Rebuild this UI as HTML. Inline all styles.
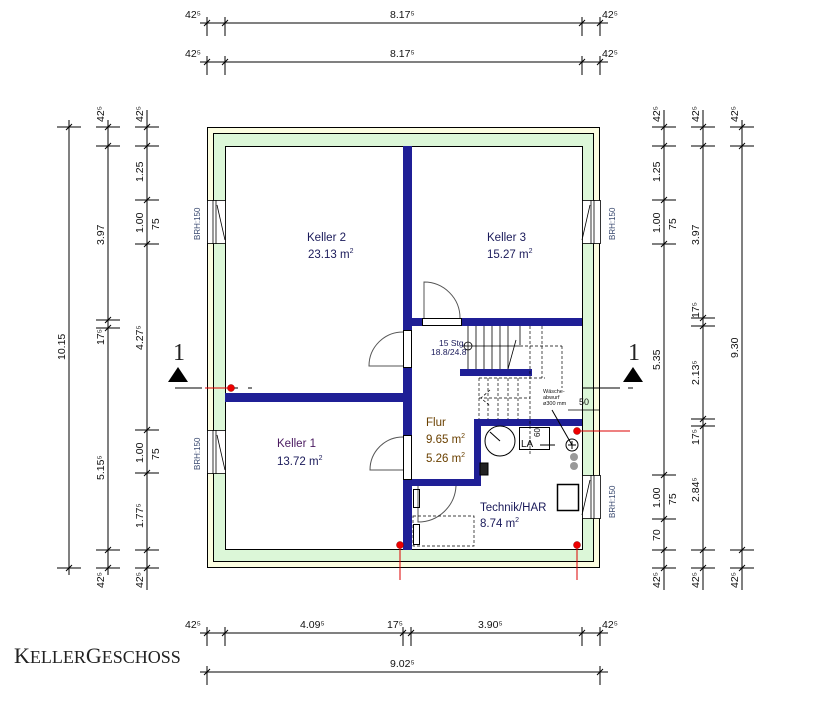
<!DOCTYPE html>
<html><head><meta charset="utf-8"><style>
html,body{margin:0;padding:0;background:#fff}
svg{display:block}
text{font-family:"Liberation Sans",sans-serif}
.d{fill:#111;font-size:10.5px}
.r{fill:#1a1a5a;font-size:11.5px}
.serif{font-family:"Liberation Serif",serif}
</style></head><body>
<svg width="828" height="712" viewBox="0 0 828 712" xmlns="http://www.w3.org/2000/svg" font-size="11">
<defs>
<g id="th"><line x1="0" y1="-6" x2="0" y2="13" stroke="#000"/><line x1="-3" y1="3" x2="3" y2="-3" stroke="#000"/></g>
<g id="tv"><line x1="-12" y1="0" x2="12" y2="0" stroke="#000"/><line x1="-3" y1="3" x2="3" y2="-3" stroke="#000"/></g>
</defs>
<g stroke="#000" stroke-width="1">
<line x1="200" y1="23" x2="608" y2="23"/><line x1="200" y1="62" x2="608" y2="62"/>
<line x1="200" y1="633" x2="608" y2="633"/><line x1="200" y1="672" x2="608" y2="672"/>
<line x1="69" y1="120" x2="69" y2="575"/><line x1="108" y1="120" x2="108" y2="575"/><line x1="147" y1="110" x2="147" y2="590"/>
<line x1="664" y1="110" x2="664" y2="590"/><line x1="703" y1="110" x2="703" y2="590"/><line x1="742" y1="120" x2="742" y2="590"/>
</g>
<use href="#th" x="207" y="23"/><use href="#th" x="225" y="23"/><use href="#th" x="582" y="23"/><use href="#th" x="600" y="23"/>
<use href="#th" x="207" y="62"/><use href="#th" x="225" y="62"/><use href="#th" x="582" y="62"/><use href="#th" x="600" y="62"/>
<use href="#th" x="207" y="633"/><use href="#th" x="225" y="633"/><use href="#th" x="403" y="633"/><use href="#th" x="411" y="633"/><use href="#th" x="582" y="633"/><use href="#th" x="600" y="633"/>
<use href="#th" x="207" y="672"/><use href="#th" x="600" y="672"/>
<use href="#tv" x="69" y="127"/><use href="#tv" x="69" y="568"/>
<use href="#tv" x="108" y="127"/><use href="#tv" x="108" y="146"/><use href="#tv" x="108" y="320"/><use href="#tv" x="108" y="328"/><use href="#tv" x="108" y="550"/><use href="#tv" x="108" y="568"/>
<use href="#tv" x="147" y="127"/><use href="#tv" x="147" y="146"/><use href="#tv" x="147" y="200"/><use href="#tv" x="147" y="244"/><use href="#tv" x="147" y="430"/><use href="#tv" x="147" y="473"/><use href="#tv" x="147" y="550"/><use href="#tv" x="147" y="568"/>
<use href="#tv" x="664" y="127"/><use href="#tv" x="664" y="146"/><use href="#tv" x="664" y="200"/><use href="#tv" x="664" y="244"/><use href="#tv" x="664" y="475"/><use href="#tv" x="664" y="519"/><use href="#tv" x="664" y="550"/><use href="#tv" x="664" y="568"/>
<use href="#tv" x="703" y="127"/><use href="#tv" x="703" y="146"/><use href="#tv" x="703" y="318"/><use href="#tv" x="703" y="326"/><use href="#tv" x="703" y="419"/><use href="#tv" x="703" y="426"/><use href="#tv" x="703" y="550"/><use href="#tv" x="703" y="568"/>
<use href="#tv" x="742" y="127"/><use href="#tv" x="742" y="146"/><use href="#tv" x="742" y="550"/><use href="#tv" x="742" y="568"/>
<g class="d">
<text x="185" y="18">42⁵</text><text x="390" y="18">8.17⁵</text><text x="602" y="18">42⁵</text>
<text x="185" y="57">42⁵</text><text x="390" y="57">8.17⁵</text><text x="602" y="57">42⁵</text>
<text x="185" y="628">42⁵</text><text x="300" y="628">4.09⁵</text><text x="387" y="628">17⁵</text><text x="478" y="628">3.90⁵</text><text x="602" y="628">42⁵</text>
<text x="390" y="667">9.02⁵</text>
</g>
<g class="d">
<text transform="translate(65,360) rotate(-90)">10.15</text>
<text transform="translate(104,122) rotate(-90)">42⁵</text>
<text transform="translate(104,245) rotate(-90)">3.97</text>
<text transform="translate(104,345) rotate(-90)">17⁵</text>
<text transform="translate(104,480) rotate(-90)">5.15⁵</text>
<text transform="translate(104,588) rotate(-90)">42⁵</text>
<text transform="translate(143,122) rotate(-90)">42⁵</text>
<text transform="translate(143,182) rotate(-90)">1.25</text>
<text transform="translate(143,233) rotate(-90)">1.00</text>
<text transform="translate(159,230) rotate(-90)">75</text>
<text transform="translate(143,350) rotate(-90)">4.27⁵</text>
<text transform="translate(143,463) rotate(-90)">1.00</text>
<text transform="translate(159,460) rotate(-90)">75</text>
<text transform="translate(143,528) rotate(-90)">1.77⁵</text>
<text transform="translate(143,588) rotate(-90)">42⁵</text>
<text transform="translate(660,122) rotate(-90)">42⁵</text>
<text transform="translate(660,182) rotate(-90)">1.25</text>
<text transform="translate(660,233) rotate(-90)">1.00</text>
<text transform="translate(676,230) rotate(-90)">75</text>
<text transform="translate(660,370) rotate(-90)">5.35</text>
<text transform="translate(660,508) rotate(-90)">1.00</text>
<text transform="translate(676,505) rotate(-90)">75</text>
<text transform="translate(660,541) rotate(-90)">70</text>
<text transform="translate(660,588) rotate(-90)">42⁵</text>
<text transform="translate(699,122) rotate(-90)">42⁵</text>
<text transform="translate(699,245) rotate(-90)">3.97</text>
<text transform="translate(699,318) rotate(-90)">17⁵</text>
<text transform="translate(699,385) rotate(-90)">2.13⁵</text>
<text transform="translate(699,445) rotate(-90)">17⁵</text>
<text transform="translate(699,502) rotate(-90)">2.84⁵</text>
<text transform="translate(699,588) rotate(-90)">42⁵</text>
<text transform="translate(738,122) rotate(-90)">42⁵</text>
<text transform="translate(738,358) rotate(-90)">9.30</text>
<text transform="translate(738,588) rotate(-90)">42⁵</text>
</g>
<rect x="207.5" y="127.5" width="392" height="440" fill="#fbfde0" stroke="#000"/>
<rect x="213.5" y="133.5" width="380" height="428" fill="#dcf7d8" stroke="#000"/>
<rect x="225.5" y="146.5" width="357" height="403" fill="#fff" stroke="#000"/>
<g fill="#fff" stroke="#000" stroke-width="0.8">
<rect x="207.5" y="200.5" width="18" height="43"/><line x1="213" y1="200" x2="213" y2="244"/><line x1="216" y1="200" x2="216" y2="244"/><line x1="217" y1="205" x2="225" y2="240"/>
<rect x="207.5" y="430.5" width="18" height="43"/><line x1="213" y1="430" x2="213" y2="474"/><line x1="216" y1="430" x2="216" y2="474"/><line x1="217" y1="435" x2="225" y2="470"/>
<rect x="582.5" y="200.5" width="18" height="43"/><line x1="594" y1="200" x2="594" y2="244"/><line x1="591" y1="200" x2="591" y2="244"/><line x1="590" y1="205" x2="582" y2="240"/>
<rect x="582.5" y="475.5" width="18" height="43"/><line x1="594" y1="475" x2="594" y2="519"/><line x1="591" y1="475" x2="591" y2="519"/><line x1="590" y1="480" x2="582" y2="515"/>
</g>
<g fill="#3a4a70" font-size="8">
<text transform="translate(200,240) rotate(-90)">BRH:150</text>
<text transform="translate(200,470) rotate(-90)">BRH:150</text>
<text transform="translate(615,240) rotate(-90)">BRH:150</text>
<text transform="translate(615,518) rotate(-90)">BRH:150</text>
</g>
<g fill="#1f1f96">
<rect x="403" y="146" width="9" height="184"/>
<rect x="403" y="368" width="9" height="67"/>
<rect x="403" y="480" width="9" height="70"/>
<rect x="225" y="393" width="178" height="9"/>
<rect x="411" y="318" width="11" height="8"/>
<rect x="462" y="318" width="120" height="8"/>
<rect x="460" y="369" width="72" height="7"/>
<rect x="474" y="419" width="108" height="7"/>
<rect x="474" y="419" width="7" height="67"/>
<rect x="411" y="479" width="70" height="7"/>
</g>
<g fill="none" stroke="#555" stroke-width="1">
<rect x="403.5" y="330.5" width="8" height="37" fill="#fff" stroke="#000"/>
<path d="M403 332 A34 34 0 0 0 369 366 L403 366"/>
<rect x="403.5" y="435.5" width="8" height="44" fill="#fff" stroke="#000"/>
<path d="M403 437 A33 33 0 0 0 370 470 L403 470"/>
<rect x="422.5" y="318.5" width="39" height="7" fill="#fff" stroke="#000"/>
<path d="M424 318 L424 282 A36 36 0 0 1 460 318"/>
<path d="M418 486 L418 522 A38 38 0 0 0 456 486"/>
</g>
<g stroke="#000" stroke-width="0.8" fill="none">
<line x1="468" y1="326" x2="468" y2="369"/>
<line x1="476" y1="326" x2="476" y2="369"/><line x1="484" y1="326" x2="484" y2="369"/><line x1="492" y1="326" x2="492" y2="369"/><line x1="500" y1="326" x2="500" y2="369"/><line x1="508" y1="326" x2="508" y2="369"/><line x1="516" y1="340" x2="508" y2="369"/>
<line x1="520" y1="326" x2="520" y2="345"/>
<circle cx="468" cy="346" r="4"/><line x1="462" y1="346" x2="520" y2="346"/>
</g>
<g stroke="#000" stroke-width="0.7" fill="none" stroke-dasharray="3,2">
<line x1="530" y1="326" x2="530" y2="455"/><line x1="542" y1="326" x2="542" y2="378"/>
<line x1="520" y1="346" x2="562" y2="346"/><line x1="562" y1="346" x2="562" y2="388"/>
<line x1="479" y1="378" x2="479" y2="419"/><line x1="488" y1="378" x2="488" y2="419"/><line x1="498" y1="378" x2="498" y2="419"/><line x1="508" y1="378" x2="508" y2="419"/><line x1="518" y1="378" x2="518" y2="419"/>
<line x1="479" y1="378" x2="545" y2="378"/><line x1="479" y1="398" x2="530" y2="398"/>
<path d="M490 390 L481 398 L490 406"/>
<rect x="413" y="516" width="61" height="30"/>
</g>
<g stroke="#000" stroke-width="1" fill="none">
<circle cx="500" cy="441" r="15"/><line x1="500" y1="441" x2="490" y2="432"/>
<rect x="519.5" y="427.5" width="30" height="22"/>
<circle cx="572" cy="445" r="6"/><line x1="568" y1="445" x2="576" y2="445"/><line x1="572" y1="441" x2="572" y2="449"/>
<line x1="572" y1="445" x2="552" y2="410"/>
<line x1="540" y1="445" x2="555" y2="445"/>
<rect x="557.5" y="484.5" width="21" height="26" stroke-width="1.5"/>
<rect x="413.5" y="489.5" width="6" height="18"/><rect x="413.5" y="524.5" width="6" height="20"/>
<rect x="480" y="463" width="8" height="12" fill="#222"/>
</g>
<circle cx="574" cy="457" r="4" fill="#999"/><circle cx="574" cy="466" r="4" fill="#999"/>
<text x="521" y="447" font-size="10" fill="#111">LA</text>
<text transform="translate(540,437) rotate(-90)" font-size="8" fill="#111">60</text>
<text x="543" y="393" font-size="5.5" fill="#111">Wäsche-</text><text x="543" y="399" font-size="5.5" fill="#111">abwurf</text><text x="543" y="405" font-size="5.5" fill="#111">ø300 mm</text>
<text x="579" y="405" font-size="9" fill="#111">50</text>
<line x1="568" y1="410" x2="600" y2="410" stroke="#000" stroke-width="0.7"/>
<g stroke="#000" stroke-width="1">
<line x1="175" y1="388" x2="202" y2="388"/><line x1="232" y1="388" x2="238" y2="388"/><line x1="248" y1="388" x2="252" y2="388"/>
<line x1="583" y1="388" x2="620" y2="388"/><line x1="628" y1="388" x2="633" y2="388"/>
</g>
<g stroke="#d00" stroke-width="1">
<line x1="205" y1="388" x2="231" y2="388"/><line x1="577" y1="431" x2="630" y2="431"/>
<line x1="400" y1="545" x2="400" y2="580"/><line x1="577" y1="545" x2="577" y2="580"/>
</g>
<g fill="#e00" stroke="#800" stroke-width="0.5">
<circle cx="231" cy="388" r="3.5"/><circle cx="400" cy="545" r="3.5"/><circle cx="577" cy="545" r="3.5"/><circle cx="577" cy="431" r="3.5"/>
</g>
<polygon points="168,382 178,367 188,382" fill="#000"/><polygon points="623,382 633,367 643,382" fill="#000"/>
<text x="173" y="360" class="serif" font-size="24" fill="#222">1</text>
<text x="628" y="360" class="serif" font-size="24" fill="#222">1</text>
<g class="r">
<text x="307" y="241">Keller 2</text><text x="308" y="258">23.13 m<tspan font-size="7" dy="-5">2</tspan></text>
<text x="487" y="241">Keller 3</text><text x="487" y="258">15.27 m<tspan font-size="7" dy="-5">2</tspan></text>
<text x="277" y="447" fill="#4a1a60">Keller 1</text><text x="277" y="465">13.72 m<tspan font-size="7" dy="-5">2</tspan></text>
<text x="480" y="511">Technik/HAR</text><text x="480" y="527">8.74 m<tspan font-size="7" dy="-5">2</tspan></text>
</g>
<g fill="#6a4000" font-size="11.5">
<text x="426" y="426">Flur</text><text x="426" y="443">9.65 m<tspan font-size="7" dy="-5">2</tspan></text><text x="426" y="462">5.26 m<tspan font-size="7" dy="-5">2</tspan></text>
</g>
<text x="439" y="346" font-size="8.5" fill="#1a1a5a">15 Stg.</text><text x="431" y="355" font-size="8.5" fill="#1a1a5a">18.8/24.8</text>
<text x="14" y="663" class="serif" font-size="22" fill="#222">K<tspan font-size="18">ELLER</tspan>G<tspan font-size="18">ESCHOSS</tspan></text>
</svg>
</body></html>
